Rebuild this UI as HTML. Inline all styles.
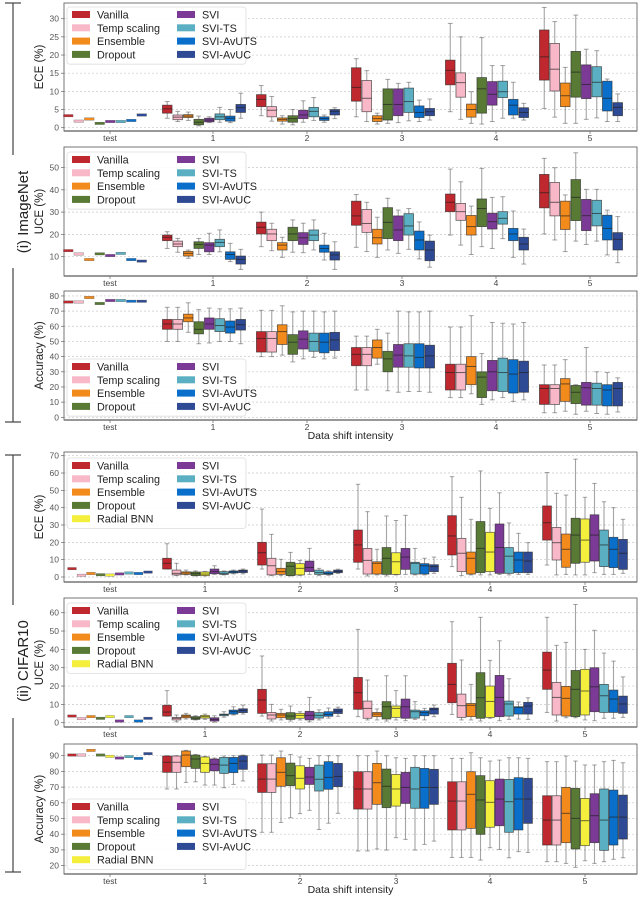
<!DOCTYPE html>
<html><head><meta charset="utf-8"><style>
html,body{margin:0;padding:0;background:#fff;}
svg{display:block;font-family:"Liberation Sans","DejaVu Sans",sans-serif;}
</style></head><body>
<svg id="chart" width="640" height="915" viewBox="0 0 640 915" xmlns="http://www.w3.org/2000/svg">
<g id="annot">
<line x1="13" y1="3" x2="13" y2="155" stroke="#444" stroke-width="1.2"/>
<line x1="5" y1="3" x2="21" y2="3" stroke="#444" stroke-width="1.2"/>
<line x1="13" y1="268" x2="13" y2="422" stroke="#444" stroke-width="1.2"/>
<line x1="5" y1="422" x2="21" y2="422" stroke="#444" stroke-width="1.2"/>
<text x="0" y="0" transform="translate(28,212) rotate(-90)" text-anchor="middle" font-size="15" fill="#222">(i) ImageNet</text>
<line x1="13" y1="455" x2="13" y2="605" stroke="#444" stroke-width="1.2"/>
<line x1="5" y1="455" x2="21" y2="455" stroke="#444" stroke-width="1.2"/>
<line x1="13" y1="718" x2="13" y2="872" stroke="#444" stroke-width="1.2"/>
<line x1="5" y1="872" x2="21" y2="872" stroke="#444" stroke-width="1.2"/>
<text x="0" y="0" transform="translate(28,661) rotate(-90)" text-anchor="middle" font-size="15" fill="#222">(ii) CIFAR10</text>
</g>
</svg>
<script>
// ---------- data ----------
const groupLabels = ["test","1","2","3","4","5"];
const imnMethods = ["Vanilla","Temp scaling","Ensemble","Dropout","SVI","SVI-TS","SVI-AvUTS","SVI-AvUC"];
const cifMethods = ["Vanilla","Temp scaling","Ensemble","Dropout","Radial BNN","SVI","SVI-TS","SVI-AvUTS","SVI-AvUC"];

// ImageNet ECE
const imnEceTest = [3.3,1.8,2.4,1.2,1.7,1.7,2.0,3.5];
const imnEceLo  = [[2.6,1.7,2,0.5,1.4,1.5,1.4,2.6],[3.3,1.8,1,0.8,1.5,2,1.5,2.5],[3,1.7,1,1.2,1.4,1.9,1.7,2.1],[4.4,2.3,1.2,1,1.7,2.6,2.6,2.1],[5.3,2.9,1.2,1.2,2.3,2.7,1.7,1.7]];
const imnEceQ1  = [[4,2.2,2.8,0.8,1.6,2.2,1.8,4.2],[5.8,3,1.8,1.5,2.5,3,2,3.5],[7.3,4.4,1.7,2.1,3.3,4.2,2.8,3.3],[11.8,8.4,2.9,4,6.2,8.3,3.5,2.8],[13.1,10.1,5.8,8.4,8,8.5,4.6,3.3]];
const imnEceMed = [[5.2,2.9,3.2,1.5,2.1,3,2.6,5.5],[7.8,4.8,2.3,2.5,3.5,4.5,2.5,4.5],[11.1,8.1,2.5,6.4,6.4,7.2,4.2,4.4],[15.8,12.4,5,10.7,9.2,9.9,6.2,4.2],[19.5,16.1,8.8,15.3,11.9,12.5,8.1,5.6]];
const imnEceQ3  = [[6.2,3.5,3.6,2.3,2.6,3.8,3.2,6.4],[9.1,5.8,2.7,3.3,4.8,5.6,3,5],[16.5,13,3.3,10.7,10.7,10.9,6,5.3],[18.6,15.1,6.5,13.8,12.7,12.8,7.8,5.5],[26.9,23.2,12.3,21,17.3,16.8,12.8,6.9]];
const imnEceHi  = [[7.2,4.5,4.3,3.2,3,5.6,5,9.5],[11.6,8.6,3.3,5,7.4,8.3,3.5,5.5],[19,15.7,4,13.3,12.2,12.5,7.6,7.9],[28.7,25,9.9,24.8,17.1,17.1,12.5,6.7],[33.1,29.2,16.6,31,21.6,21.2,13.4,9.3]];
const imnEceTicks = [0,5,10,15,20,25,30];

// ImageNet UCE
const imnUceTest = [12.7,11.2,8.7,11.3,10.5,11.5,8.7,8];
const imnUceLo  = [[13.7,12,9.3,11,11,12.2,7.8,4.3],[14.5,12.7,9.7,12,11.8,13,8.5,4.3],[14.2,12.3,9.7,13,11.5,13.3,9,5.3],[19.7,15.2,11,14.5,13.7,18.1,9.7,6.7],[20.2,17.5,12.3,17,15.5,17,10.8,7.3]];
const imnUceQ1  = [[17.2,14.5,10.3,13.7,12.2,14.5,8.8,6.7],[20.2,17.2,13,17.2,15.5,17.2,12,8.5],[24.1,20.9,15.7,18.1,17.2,19.7,13,8.2],[30.2,26.3,19.7,23.5,22.4,24.6,17.2,13],[31.9,28.3,22.2,26.2,21.7,23.8,17.5,13]];
const imnUceMed = [[18.7,15.7,11.5,15.5,15.2,16.4,11,8.8],[23.2,20.2,15.2,20.2,18.5,19.7,13.7,10.8],[28.3,24.9,18.5,25.4,22,23.8,17.5,13],[34.4,30.2,23.5,31.6,25.7,27.2,20.2,15.7],[38.7,34.4,28.3,36.6,28.4,29.4,22.7,17.8]];
const imnUceQ3  = [[19.7,17,12.4,16.7,16.3,17.8,12.2,10.3],[25.5,22.3,16.3,23.2,20.8,22,15.2,12.2],[34.9,31.2,22.3,32,28.3,29.3,21.5,17],[38.1,33.9,28.5,35.9,29.5,30.2,22.7,18.7],[46.9,43.3,34.9,44.6,35.7,35.3,28.6,20.8]];
const imnUceHi  = [[21.2,18.2,13,18.2,20.5,22,16,13.3],[30,25,18.7,26.5,25,26.5,20.5,16.7],[37.9,34.4,27.7,36.2,30.9,31.6,25.6,19.7],[49.3,43.6,32.7,49.6,36.6,36.9,30.5,22.4],[54.1,49.9,37.7,56.6,40.2,40.2,30.9,28]];
const imnUceTicks = [10,20,30,40,50];

// ImageNet Accuracy
const imnAccTest = [76,76,79,75,77,77,76.5,76.5];
const imnAccLo  = [[50,50,56,48.5,49,50,50,48.5],[40,40,41,36.5,38.5,39.5,38.5,39],[18,18,35,17.5,16.5,17,17,16.5],[13,13,15.5,8.5,11.5,13,10.5,11.5],[3,3,4,2,4,2.5,2,3.5]];
const imnAccQ1  = [[58,58,63,55,58,56.5,55.5,57.5],[43,43,48,41.5,45,43.5,42.5,44],[34,34,39,30,33,33,32.5,32.5],[18,18,21.5,13,17.5,17,16,16.5],[8.5,8.5,10.5,9,8,8,7.5,7.5]];
const imnAccMed = [[61.5,61.5,65.5,58,61.5,60.5,59.5,61],[52,52,56.5,49.5,51.5,50,49.5,51],[41.5,41.5,46,38.5,41,40.5,39.5,40.5],[29.5,29.5,33.5,26.5,30,29.5,28.5,29.5],[19,19,22,16.5,19.5,19,18,19]];
const imnAccQ3  = [[64.5,64.5,68,63,65.5,65,63.5,64.5],[56.5,56.5,61,54.5,57,55.5,55.5,56],[46,46,51,43.5,48,48.5,48.5,47.5],[35,35,40,30,37.5,39,38,37],[21.5,21.5,25.5,21,23,22.5,21.5,23]];
const imnAccHi  = [[72.5,72.5,75.5,71,72,71.5,71.5,72],[70.5,70.5,73.5,69.5,70,70,69.5,70],[53.5,53.5,58,55.5,70,69.5,69.5,70],[59.5,59.5,67,42,62.5,62,61.5,62.5],[34.5,34.5,38,21.5,46,30,29.5,26]];
const imnAccTicks = [0,10,20,30,40,50,60,70,80];

// CIFAR10 ECE
const cifEceTest = [4.8,1,2,1.3,1.1,1.8,2.3,2,2.8];
const cifEceLo  = [[4.6,0.8,1.2,0.6,0.6,1.5,1.2,1.8,1.8],[4.6,0.8,0.8,0.6,0.8,1.5,0.8,1,2],[4.6,0.6,1.2,0.6,1.2,1.5,1.2,1.2,2.1],[6,0.8,1.2,1.2,1.2,1.5,1.2,1.5,1.5],[6.9,1.2,1.5,1.2,1.2,2.5,1.5,1.5,2.1]];
const cifEceQ1  = [[4.6,1.2,1.5,0.8,0.8,1.9,1.5,2.3,2.5],[6.9,1.2,1.5,0.8,1.2,3.1,1.5,1.5,2.5],[8.5,1.7,1.7,1.5,1.5,4.4,1.7,1.7,3.1],[12.7,3.1,1.7,2.5,3.1,2.1,2.1,2.5,2.5],[21.3,9.8,5.6,7.9,8.5,9.2,6,5.4,4.4]];
const cifEceMed = [[7.9,2.1,2.3,1.9,1.7,3.1,2.1,2.9,3.5],[14,6.5,3.1,6.2,5,5.5,2.5,2,3.2],[18.5,9.6,7.9,10.8,8.8,11.5,7.9,6.5,6],[23.7,13.7,10.8,16.5,14.4,17,12,9.8,9.2],[31.3,19.8,16,24.2,21.3,24.2,18.5,16,13.7]];
const cifEceQ3  = [[10.8,4,3,2.9,2.9,4.6,3.1,3.5,4],[20,10.8,5,8.5,7.7,9.2,4,3,4],[27.1,16.5,8.8,17,14,16.5,8.5,7.7,7.1],[35.4,22.3,14.4,32,25.8,30.6,17,14.4,14.4],[41,28.6,24.8,33.9,33.5,35.9,27.1,22.9,21.7]];
const cifEceHi  = [[19.2,7.9,4,3.5,3.2,6.5,3.5,4,4.6],[39.2,24.6,10.2,14.2,9.6,16.5,5,3.5,4.5],[53.5,37.7,16,35.2,32.6,35.6,16.5,10.8,11.5],[57.9,46,33.3,61.2,39.6,48.6,31.2,25.2,19.8],[60.3,48.3,47.3,68,46,54,43.4,40,33.3]];
const cifEceTicks = [0,10,20,30,40,50,60,70];

// CIFAR10 UCE
const cifUceTest = [3.6,2.2,3.3,2.4,3.3,0.9,3.3,0.9,2.4];
const cifUceLo  = [[3.6,0.5,2,1.5,1.8,0.3,3,4.2,4.7],[3.6,0.9,1.5,0.9,1.5,0.5,1.5,2.5,3.5],[3.3,1.5,1.5,0.9,1.5,1.1,1.8,1.5,3.3],[4.5,1.5,1.5,0.9,2.4,1.1,1.8,2,1.8],[5.6,0.9,2.7,2.7,1.5,1.1,2.4,2.4,2.9]];
const cifUceQ1  = [[3.6,1.5,2.7,1.8,2.5,0.9,3.8,4.7,5.5],[5.1,2,2.7,1.8,2.4,1.5,2.5,3.5,5],[7.3,2.4,3.3,2,2.9,2.4,2.5,3.8,4.7],[10.9,2.9,3.3,2.4,2.9,3.3,3.6,4.7,4.7],[18.2,4.2,3.6,3.3,4.2,6,5.6,5.6,5.1]];
const cifUceMed = [[5.8,2.4,3.6,2.5,3.3,1.8,4.4,6,6.7],[12.4,4.2,4.2,3.6,4,4,4,4.5,6.3],[16.4,7.8,4.7,8.7,7.8,8.7,6,5.5,7.3],[20.9,9.3,9.5,13.6,11.6,13.8,10.2,8.4,9.1],[28.7,13.8,13.3,18.2,17.3,19.6,14.7,12.9,10.2]];
const cifUceQ3  = [[9.5,2.9,4.2,3.3,4,2.7,4.7,6.9,7.6],[18.2,5.6,5.1,5.5,5.1,6.2,5.5,6,7.5],[24.7,11.8,5.6,11.5,9.1,12.9,6.9,6.5,8],[32.4,15.6,10.5,27.3,20,25.8,11.8,8.7,11.1],[38.5,22,19.8,28.5,29.1,30,20.9,17.8,14.5]];
const cifUceHi  = [[17.5,4.2,5.1,3.8,4.7,3.8,6,8.7,9.6],[36.4,10,7.3,9.1,6,13.8,7,8,8.5],[50.9,23.3,7.5,25.6,17.5,25.6,11.5,7.8,9.6],[55.1,34.2,20.9,57.5,34,44.7,24,11.3,13.6],[57.5,42.2,43.8,64.5,40,50.4,38,33.6,25]];
const cifUceTicks = [0,10,20,30,40,50,60];

// CIFAR10 Accuracy
const cifAccTest = [90.4,90.4,93.4,90.4,89.6,88.5,89.4,88.3,91.3];
const cifAccLo  = [[68.8,68.8,73,73.4,71.3,71.3,69.6,71.7,73.9],[41.2,41.2,47.5,50.5,53.1,55.2,43,47,53.3],[29.3,29.3,30.6,29.9,37.8,36.7,29.9,33.5,35.6],[25.2,25.2,25.2,23.5,31.4,30.3,25,28.9,28.4],[22.5,22.5,21.4,18.9,23.1,21.4,22.5,24,25]];
const cifAccQ1  = [[79.4,79.4,83,81.9,79.4,80.4,78.7,79.2,81.3],[66.6,66.6,70.5,70.9,68.8,71.7,67.5,68.6,70.3],[56,56,59,56.9,57.9,59.6,56.5,56.5,59],[42.7,42.7,43.7,39.9,44.4,45.4,41.2,42.7,46.9],[33.1,33.1,34.6,30.6,32.7,34.6,29.7,33.1,36.9]];
const cifAccMed = [[85.8,85.8,90.4,87.9,85.1,84.5,84,85.1,86.6],[75.1,75.1,79.4,77.3,75.6,76.4,75,76.2,76.8],[68.8,68.8,72.8,70.5,68.8,69.8,68.8,69.8,69.8],[61.1,61.1,65.4,61.8,60.3,62.4,60.7,62.4,62.4],[49,49,53.3,50.1,48.6,51.8,49,50.9,50.9]];
const cifAccQ3  = [[89.8,89.8,93,90.4,89.2,87.9,88.9,88.9,90],[84.9,84.9,88.7,85.3,83.6,82.6,84,86.2,85.1],[79.8,79.8,85.1,81.5,78.1,79.4,82.6,81.9,81.3],[73.4,73.4,79.8,77.3,74.1,75.1,74.9,76,75.6],[64.5,64.5,69.8,69.2,62.8,65.8,68.8,68.1,64.9]];
const cifAccHi  = [[90,90,93.4,90.8,89.6,88.5,89.8,90,90.4],[90.4,90.4,93,90.8,89.2,88.3,90,90,90],[90,90,93,90,88.7,88.3,90,90,90],[88.3,88.3,91.9,88.7,86.6,87.2,88.7,88.7,88.3],[86.2,86.2,89.8,86.6,84.1,84.1,86.2,87,85.5]];
const cifAccTicks = [20,30,40,50,60,70,80,90];

// ---------- drawing ----------
const COLORS = {"Vanilla":"#c0282f","Temp scaling":"#f8b8c8","Ensemble":"#f28a1c","Dropout":"#587a34","Radial BNN":"#f4ef3c","SVI":"#7b3a96","SVI-TS":"#5aafc2","SVI-AvUTS":"#0a6fcb","SVI-AvUC":"#2f4a94"};
const NS = "http://www.w3.org/2000/svg";
const svg = document.getElementById('chart');
function mk(tag, attrs, parent){const e=document.createElementNS(NS,tag);for(const k in attrs)e.setAttribute(k,attrs[k]);(parent||svg).appendChild(e);return e;}

function panel(p){
  const g = mk('g',{});
  
  
  const y = v => p.y0 - (v - p.v0) * p.k;
  p.ticks.forEach(t=>{
    const gl = mk('line',{x1:p.left,x2:p.right,y1:y(t),y2:y(t),stroke:'#c8c8c8','stroke-width':0.7,'stroke-dasharray':'2,2'},g);
    
    
    const tl = mk('text',{x:p.left-5,y:y(t)+3,'text-anchor':'end','font-size':8.5,fill:'#555'},g);
    
    
    tl.textContent = t;
    mk('line',{x1:p.left-3,x2:p.left,y1:y(t),y2:y(t),stroke:'#666','stroke-width':0.7},g);
  });
  const fr = mk('rect',{x:p.left,y:p.top,width:p.right-p.left,height:p.bottom-p.top,fill:'none',stroke:'#666','stroke-width':0.9},g);
  
  
  mk('line',{x1:p.left,x2:p.right,y1:p.bottom,y2:p.bottom,stroke:'#777','stroke-width':1.6},g);
  const yl = mk('text',{x:0,y:0,transform:`translate(${p.left-21},${(p.top+p.bottom)/2}) rotate(-90)`,'text-anchor':'middle','font-size':11.5,fill:'#222'},g);
  
  
  yl.textContent = p.ylabel;
  const n = p.methods.length;
  groupLabels.forEach((lab,gi)=>{
    const tx = p.ticks_x[gi];
    mk('line',{x1:tx,x2:tx,y1:p.bottom,y2:p.bottom+3,stroke:'#666','stroke-width':0.7},g);
    const xt = mk('text',{x:tx,y:p.bottom+10,'text-anchor':'middle','font-size':8.5,fill:'#444'},g);
    
    
    xt.textContent = lab;
  });
  const bw = p.bw;
  p.methods.forEach((m,mi)=>{
    const col = COLORS[m];
    {
      const cx = p.ticks_x[0] + p.testOff + (mi-(n-1)/2)*p.step;
      const v = p.test[mi];
      const r = mk('rect',{x:cx-bw/2,y:y(v)-1.2,width:bw,height:2.4,fill:col,stroke:'#555','stroke-width':0.3},g);
      
      
    }
    for(let gi=0; gi<5; gi++){
      const cx = p.ticks_x[gi+1] + p.off + (mi-(n-1)/2)*p.step;
      const lo=p.lo[gi][mi], q1=p.q1[gi][mi], md=p.med[gi][mi], q3=p.q3[gi][mi], hi=p.hi[gi][mi];
      const bg = mk('g',{},g);
      
      
      const wc = 'rgba(90,90,90,0.55)';
      mk('line',{x1:cx,x2:cx,y1:y(hi),y2:y(q3),stroke:wc,'stroke-width':1.1},bg);
      mk('line',{x1:cx,x2:cx,y1:y(q1),y2:y(lo),stroke:wc,'stroke-width':1.1},bg);
      mk('line',{x1:cx-bw/4,x2:cx+bw/4,y1:y(hi),y2:y(hi),stroke:wc,'stroke-width':1},bg);
      mk('line',{x1:cx-bw/4,x2:cx+bw/4,y1:y(lo),y2:y(lo),stroke:wc,'stroke-width':1},bg);
      mk('rect',{x:cx-bw/2,y:y(q3),width:bw,height:Math.max(0.8,y(q1)-y(q3)),fill:col,stroke:'rgba(40,40,40,0.7)','stroke-width':0.8},bg);
      mk('line',{x1:cx-bw/2,x2:cx+bw/2,y1:y(md),y2:y(md),stroke:'rgba(30,30,30,0.65)','stroke-width':1},bg);
    }
  });
  const rows = Math.ceil(n/2);
  const lg = mk('g',{},g);
  
  
  mk('rect',{x:p.legX,y:p.legY,width:179,height:rows*13.3+4,rx:3,fill:'rgba(255,255,255,0.88)',stroke:'#ddd','stroke-width':0.8},lg);
  const leftCol = n===9 ? 5 : 4;
  p.methods.forEach((m,mi)=>{
    const c = mi<leftCol?0:1, r = mi<leftCol?mi:mi-leftCol;
    const lx = p.legX + 5 + c*105, ly = p.legY + 3 + r*13.3;
    const e = mk('g',{},lg);
    
    
    mk('rect',{x:lx,y:ly+1,width:18,height:7,fill:COLORS[m]},e);
    const t = mk('text',{x:lx+25,y:ly+8.5,'font-size':10.8,fill:'#222'},e);
    t.textContent = m;
  });
  if(p.xlabel){
    const xl = mk('text',{x:(p.left+p.right)/2,y:p.bottom+19,'text-anchor':'middle','font-size':10.5,fill:'#222'},g);
    
    
    xl.textContent = 'Data shift intensity';
  }
}

const imnX = [110,213,307,402,496,590];
const cifX = [110,205,300,396,490,585];
const imnCommon = {methods:imnMethods,left:64,right:637,ticks_x:imnX,off:-9,testOff:-5,step:10.5,bw:9.6,legX:67};
const cifCommon = {methods:cifMethods,left:64,right:637,ticks_x:cifX,off:0,testOff:0,step:9.5,bw:8.8,legX:67};

panel(Object.assign({},imnCommon,{name:'imagenet-ece-panel',ylabel:'ECE (%)',top:3,bottom:131,y0:127.7,v0:0,k:3.633,ticks:imnEceTicks,test:imnEceTest,lo:imnEceLo,q1:imnEceQ1,med:imnEceMed,q3:imnEceQ3,hi:imnEceHi,legY:7}));
panel(Object.assign({},imnCommon,{name:'imagenet-uce-panel',ylabel:'UCE (%)',top:147,bottom:276,y0:279,v0:0,k:2.23,ticks:imnUceTicks,test:imnUceTest,lo:imnUceLo,q1:imnUceQ1,med:imnUceMed,q3:imnUceQ3,hi:imnUceHi,legY:152}));
panel(Object.assign({},imnCommon,{name:'imagenet-accuracy-panel',ylabel:'Accuracy (%)',top:291,bottom:420,y0:417.3,v0:0,k:1.517,ticks:imnAccTicks,test:imnAccTest,lo:imnAccLo,q1:imnAccQ1,med:imnAccMed,q3:imnAccQ3,hi:imnAccHi,legY:359,xlabel:true}));
panel(Object.assign({},cifCommon,{name:'cifar10-ece-panel',ylabel:'ECE (%)',top:452,bottom:582,y0:577,v0:0,k:1.733,ticks:cifEceTicks,test:cifEceTest,lo:cifEceLo,q1:cifEceQ1,med:cifEceMed,q3:cifEceQ3,hi:cifEceHi,legY:458}));
panel(Object.assign({},cifCommon,{name:'cifar10-uce-panel',ylabel:'UCE (%)',top:598,bottom:727,y0:722.7,v0:0,k:1.833,ticks:cifUceTicks,test:cifUceTest,lo:cifUceLo,q1:cifUceQ1,med:cifUceMed,q3:cifUceQ3,hi:cifUceHi,legY:603}));
panel(Object.assign({},cifCommon,{name:'cifar10-accuracy-panel',ylabel:'Accuracy (%)',top:744,bottom:874,y0:755.7,v0:90,k:1.57,ticks:cifAccTicks,test:cifAccTest,lo:cifAccLo,q1:cifAccQ1,med:cifAccMed,q3:cifAccQ3,hi:cifAccHi,legY:799,xlabel:true}));
</script>
</body></html>
